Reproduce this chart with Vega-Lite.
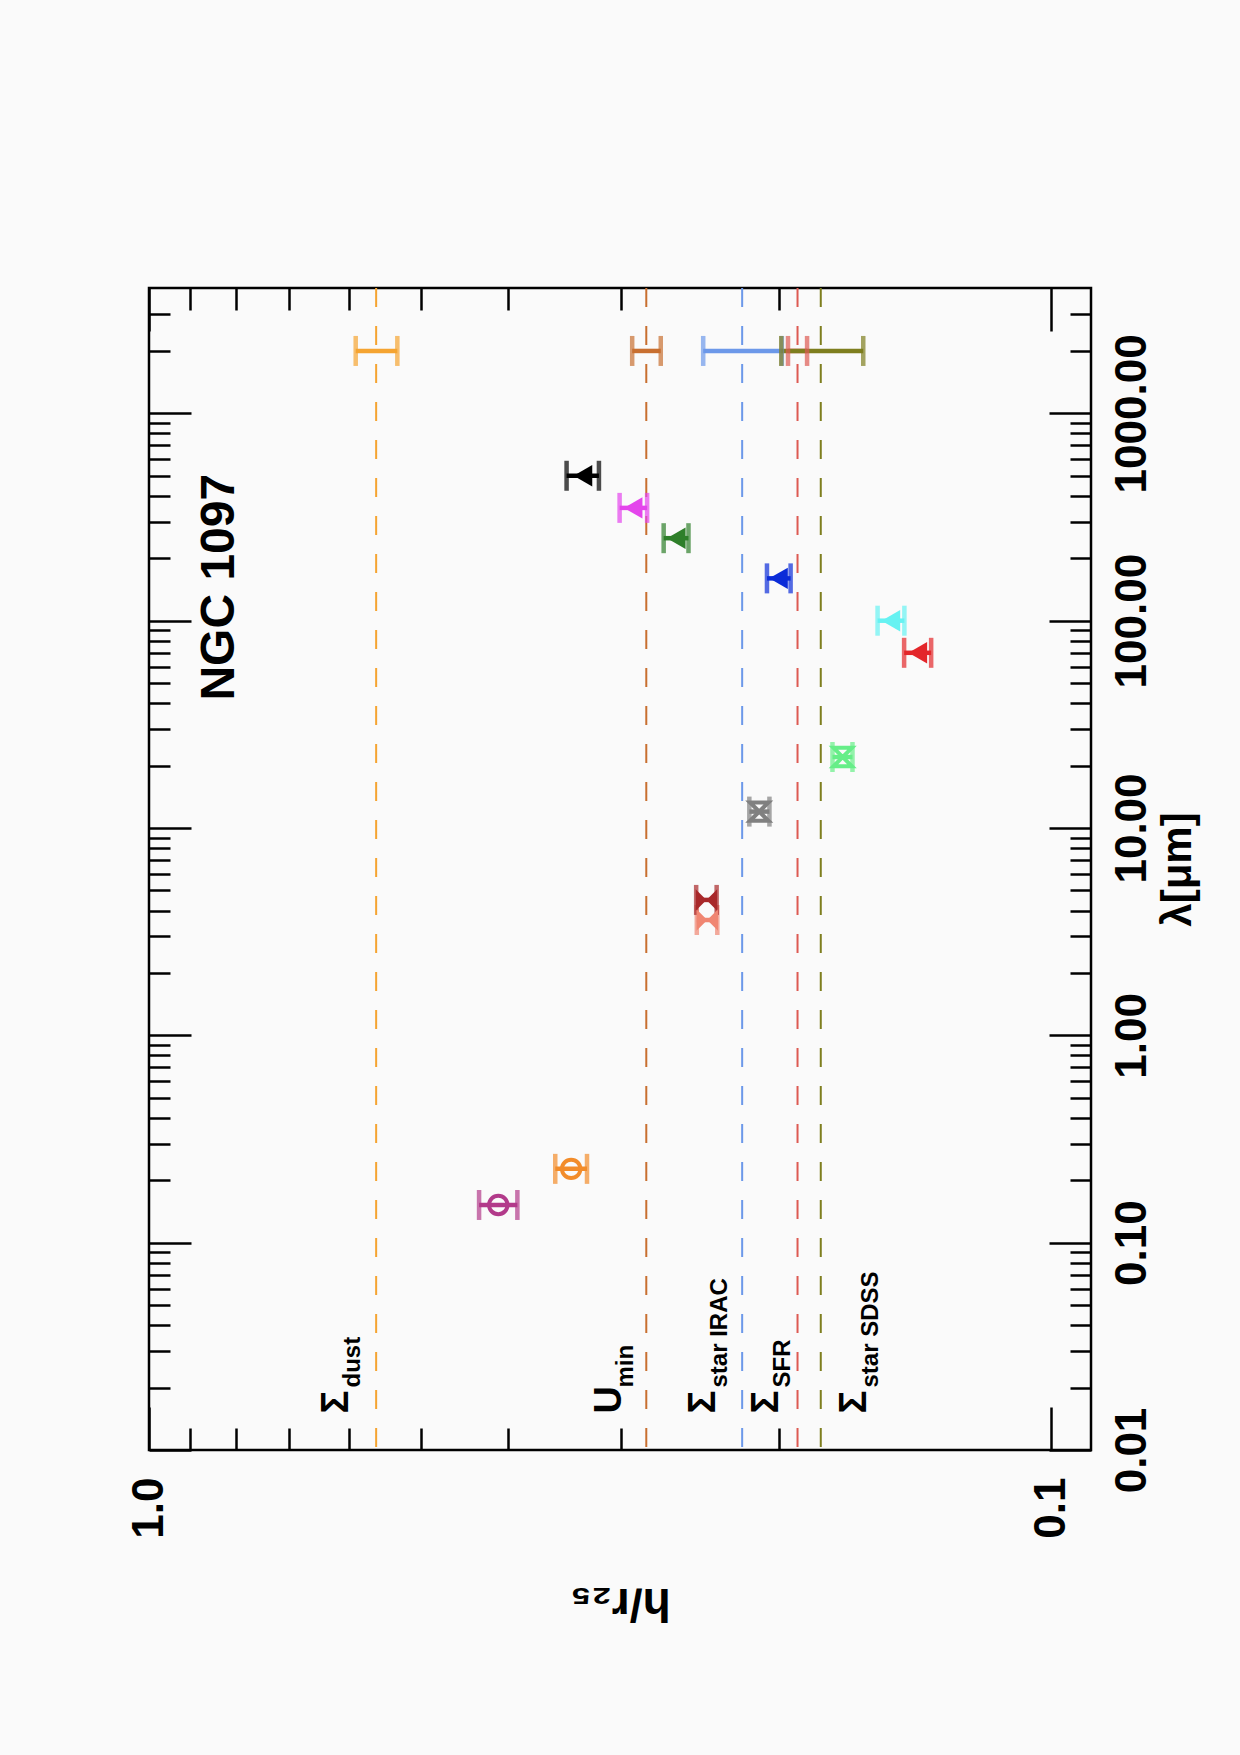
{
  "$schema": "https://vega.github.io/schema/vega-lite/v6.json",
  "width": 942,
  "height": 1162,
  "autosize": {"type": "none"},
  "padding": {"left": 149, "top": 288, "right": 149, "bottom": 305},
  "background": "#FAFAFA",
  "config": {
    "view": {"stroke": "#000000", "strokeWidth": 2.5},
    "axis": {
      "domain": false,
      "grid": false,
      "tickColor": "#000000",
      "tickWidth": 2.5,
      "labelFont": "Liberation Sans",
      "labelFontWeight": "bold",
      "labelFontSize": 44,
      "labelColor": "#000000",
      "titleFont": "Liberation Sans",
      "titleFontWeight": "bold",
      "titleColor": "#000000",
      "labelFlush": false,
      "labelOverlap": false
    },
    "text": {"font": "Liberation Sans", "fontWeight": "bold", "color": "#000000"}
  },
  "datasets": {
    "bands": [
      {"name": "FUV", "kind": "UV", "lam": 0.152, "h": 0.41, "lo": 0.3905, "hi": 0.4306},
      {"name": "NUV", "kind": "UV", "lam": 0.227, "h": 0.3404, "lo": 0.3269, "hi": 0.3545},
      {"name": "IRAC 3.6", "kind": "IRAC", "lam": 3.6, "h": 0.2405, "lo": 0.2344, "hi": 0.247},
      {"name": "IRAC 4.5", "kind": "IRAC", "lam": 4.5, "h": 0.241, "lo": 0.2348, "hi": 0.2474},
      {"name": "WISE 12", "kind": "WISE", "lam": 12, "h": 0.2106, "lo": 0.2052, "hi": 0.216},
      {"name": "WISE 22", "kind": "WISE", "lam": 22, "h": 0.1702, "lo": 0.166, "hi": 0.1747},
      {"name": "PACS 70", "kind": "FIR", "lam": 70, "h": 0.1405, "lo": 0.1358, "hi": 0.1455},
      {"name": "PACS 100", "kind": "FIR", "lam": 100, "h": 0.1505, "lo": 0.1454, "hi": 0.1557},
      {"name": "PACS 160", "kind": "FIR", "lam": 160, "h": 0.2005, "lo": 0.1944, "hi": 0.2065},
      {"name": "SPIRE 250", "kind": "FIR", "lam": 250, "h": 0.2603, "lo": 0.2523, "hi": 0.2688},
      {"name": "SPIRE 350", "kind": "FIR", "lam": 350, "h": 0.2906, "lo": 0.2804, "hi": 0.3008},
      {"name": "SPIRE 500", "kind": "FIR", "lam": 500, "h": 0.3303, "lo": 0.3171, "hi": 0.3444}
    ],
    "refs": [
      {"name": "Σdust", "lam": 2000, "h": 0.56, "lo": 0.5305, "hi": 0.59},
      {"name": "Umin", "lam": 2000, "h": 0.281, "lo": 0.2708, "hi": 0.2913},
      {"name": "ΣstarIRAC", "lam": 2000, "h": 0.22, "lo": 0.1988, "hi": 0.243},
      {"name": "ΣSFR", "lam": 2000, "h": 0.191, "lo": 0.1864, "hi": 0.1957},
      {"name": "ΣstarSDSS", "lam": 2000, "h": 0.18, "lo": 0.1615, "hi": 0.1991}
    ],
    "labels": [
      {"main": "Σ", "sub": "dust", "h": 0.6016, "lam": 0.015},
      {"main": "U", "sub": "min", "h": 0.2997, "lam": 0.015},
      {"main": "Σ", "sub": "star IRAC", "h": 0.2358, "lam": 0.015},
      {"main": "Σ", "sub": "SFR", "h": 0.2008, "lam": 0.015},
      {"main": "Σ", "sub": "star SDSS", "h": 0.1603, "lam": 0.015}
    ],
    "galaxy": [
      {"text": "NGC 1097", "h": 0.834, "lam": 145}
    ]
  },
  "layer": [
    {
      "data": {"name": "refs"},
      "mark": {"type": "rule", "strokeDash": [19, 19], "strokeWidth": 2},
      "encoding": {
        "x": {"field": "h", "type": "quantitative", "scale": {"type": "log", "domain": [0.0903, 1], "reverse": true, "nice": false}, "axis": null},
        "color": {"field": "name", "type": "nominal", "legend": null,
          "scale": {"domain": ["Σdust", "Umin", "ΣstarIRAC", "ΣSFR", "ΣstarSDSS", "FUV", "NUV", "IRAC 3.6", "IRAC 4.5", "WISE 12", "WISE 22", "PACS 70", "PACS 100", "PACS 160", "SPIRE 250", "SPIRE 350", "SPIRE 500"],
                    "range": ["#F5A431", "#C86F30", "#6C98E9", "#DD5A52", "#7E7E1E", "#B23A8A", "#F28C2A", "#F08672", "#A8282A", "#808080", "#66EE88", "#E3262A", "#66F2F2", "#0B2CD8", "#2E7F2A", "#E445EC", "#000000"]}}
      }
    },
    {
      "data": {"name": "refs"},
      "mark": {"type": "rule", "strokeWidth": 4.5},
      "encoding": {
        "x": {"field": "lo", "type": "quantitative", "scale": {"type": "log", "domain": [0.0903, 1], "reverse": true, "nice": false},
          "axis": {"orient": "top", "labels": false, "title": null,
            "values": [0.1, 0.2, 0.3, 0.4, 0.5, 0.6, 0.7, 0.8, 0.9, 1],
            "tickSize": {"condition": {"test": "datum.value === 0.1 || datum.value === 1", "value": -43}, "value": -22}}},
        "x2": {"field": "hi"},
        "y": {"field": "lam", "type": "quantitative", "scale": {"type": "log", "domain": [0.01, 4024], "nice": false},
          "axis": {"orient": "left", "labels": false, "title": null,
            "values": [0.01, 0.02, 0.03, 0.04, 0.05, 0.06, 0.07, 0.08, 0.09, 0.1, 0.2, 0.3, 0.4, 0.5, 0.6, 0.7, 0.8, 0.9, 1, 2, 3, 4, 5, 6, 7, 8, 9, 10, 20, 30, 40, 50, 60, 70, 80, 90, 100, 200, 300, 400, 500, 600, 700, 800, 900, 1000, 2000, 3000],
            "tickSize": {"condition": {"test": "datum.value === 0.01 || datum.value === 0.1 || datum.value === 1 || datum.value === 10 || datum.value === 100 || datum.value === 1000", "value": -42}, "value": -21}}},
        "color": {"field": "name", "type": "nominal", "legend": null}
      }
    },
    {
      "data": {"name": "refs"},
      "transform": [{"fold": ["lo", "hi"], "as": ["end", "val"]}],
      "mark": {"type": "tick", "orient": "vertical", "size": 30, "thickness": 4.5},
      "encoding": {
        "x": {"field": "val", "type": "quantitative", "scale": {"type": "log", "domain": [0.0903, 1], "reverse": true, "nice": false}, "axis": null},
        "y": {"field": "lam", "type": "quantitative", "scale": {"type": "log", "domain": [0.01, 4024], "nice": false}, "axis": null},
        "color": {"field": "name", "type": "nominal", "legend": null}
      }
    },
    {
      "data": {"name": "bands"},
      "mark": {"type": "rule", "strokeWidth": 4.5},
      "encoding": {
        "x": {"field": "lo", "type": "quantitative", "scale": {"type": "log", "domain": [0.0903, 1], "reverse": true, "nice": false},
          "axis": {"orient": "bottom",
            "values": [0.1, 0.2, 0.3, 0.4, 0.5, 0.6, 0.7, 0.8, 0.9, 1],
            "tickSize": {"condition": {"test": "datum.value === 0.1 || datum.value === 1", "value": -43}, "value": -22},
            "format": ".1f",
            "labelExpr": "datum.value === 0.1 || datum.value === 1 ? datum.label : ''",
            "labelAngle": 270, "labelAlign": "right", "labelBaseline": "middle", "labelPadding": 70,
            "title": "h/r₂₅", "titleAngle": 180, "titleFontSize": 46, "titleX": 471, "titleY": 138,
            "titleAlign": "center", "titleBaseline": "alphabetic"}},
        "x2": {"field": "hi"},
        "y": {"field": "lam", "type": "quantitative", "scale": {"type": "log", "domain": [0.01, 4024], "nice": false},
          "axis": {"orient": "right",
            "values": [0.01, 0.02, 0.03, 0.04, 0.05, 0.06, 0.07, 0.08, 0.09, 0.1, 0.2, 0.3, 0.4, 0.5, 0.6, 0.7, 0.8, 0.9, 1, 2, 3, 4, 5, 6, 7, 8, 9, 10, 20, 30, 40, 50, 60, 70, 80, 90, 100, 200, 300, 400, 500, 600, 700, 800, 900, 1000, 2000, 3000],
            "tickSize": {"condition": {"test": "datum.value === 0.01 || datum.value === 0.1 || datum.value === 1 || datum.value === 10 || datum.value === 100 || datum.value === 1000", "value": -42}, "value": -21},
            "format": ".2f",
            "labelExpr": "datum.value === 0.01 || datum.value === 0.1 || datum.value === 1 || datum.value === 10 || datum.value === 100 || datum.value === 1000 ? datum.label : ''",
            "labelAngle": 270, "labelAlign": "center", "labelBaseline": "top", "labelPadding": 61,
            "title": "λ[μm]", "titleAngle": 270, "titleFontSize": 42, "titleX": 66, "titleY": 581,
            "titleAlign": "center", "titleBaseline": "top"}},
        "color": {"field": "name", "type": "nominal", "legend": null}
      }
    },
    {
      "data": {"name": "bands"},
      "transform": [{"fold": ["lo", "hi"], "as": ["end", "val"]}],
      "mark": {"type": "tick", "orient": "vertical", "size": 30, "thickness": 4.5},
      "encoding": {
        "x": {"field": "val", "type": "quantitative", "scale": {"type": "log", "domain": [0.0903, 1], "reverse": true, "nice": false}, "axis": null},
        "y": {"field": "lam", "type": "quantitative", "scale": {"type": "log", "domain": [0.01, 4024], "nice": false}, "axis": null},
        "color": {"field": "name", "type": "nominal", "legend": null}
      }
    },
    {
      "data": {"name": "bands"},
      "transform": [{"filter": "datum.kind === 'IRAC' || datum.kind === 'FIR'"}],
      "mark": {"type": "point", "filled": true, "opacity": 1, "size": 460},
      "encoding": {
        "x": {"field": "h", "type": "quantitative", "scale": {"type": "log", "domain": [0.0903, 1], "reverse": true, "nice": false}, "axis": null},
        "y": {"field": "lam", "type": "quantitative", "scale": {"type": "log", "domain": [0.01, 4024], "nice": false}, "axis": null},
        "color": {"field": "name", "type": "nominal", "legend": null},
        "shape": {"field": "kind", "type": "nominal", "legend": null,
          "scale": {"domain": ["UV", "IRAC", "WISE", "FIR"], "range": ["circle", "M-1,-1L1,1L1,-1L-1,1Z", "M-1,-1L1,-1L-1,1L1,1Z", "triangle-left"]}}
      }
    },
    {
      "data": {"name": "bands"},
      "transform": [{"filter": "datum.kind === 'UV' || datum.kind === 'WISE'"}],
      "mark": {"type": "point", "filled": false, "opacity": 1, "strokeWidth": 4, "size": 340},
      "encoding": {
        "x": {"field": "h", "type": "quantitative", "scale": {"type": "log", "domain": [0.0903, 1], "reverse": true, "nice": false}, "axis": null},
        "y": {"field": "lam", "type": "quantitative", "scale": {"type": "log", "domain": [0.01, 4024], "nice": false}, "axis": null},
        "color": {"field": "name", "type": "nominal", "legend": null},
        "shape": {"field": "kind", "type": "nominal", "legend": null}
      }
    },
    {
      "data": {"name": "galaxy"},
      "mark": {"type": "text", "angle": 270, "align": "center", "baseline": "middle", "fontSize": 48},
      "encoding": {
        "x": {"field": "h", "type": "quantitative", "scale": {"type": "log", "domain": [0.0903, 1], "reverse": true, "nice": false}, "axis": null},
        "y": {"field": "lam", "type": "quantitative", "scale": {"type": "log", "domain": [0.01, 4024], "nice": false}, "axis": null},
        "text": {"field": "text"}
      }
    },
    {
      "data": {"name": "labels"},
      "mark": {"type": "text", "angle": 270, "align": "left", "baseline": "alphabetic", "fontSize": 38},
      "encoding": {
        "x": {"field": "h", "type": "quantitative", "scale": {"type": "log", "domain": [0.0903, 1], "reverse": true, "nice": false}, "axis": null},
        "y": {"field": "lam", "type": "quantitative", "scale": {"type": "log", "domain": [0.01, 4024], "nice": false}, "axis": null},
        "text": {"field": "main"}
      }
    },
    {
      "data": {"name": "labels"},
      "mark": {"type": "text", "angle": 270, "align": "left", "baseline": "alphabetic", "fontSize": 24, "dx": 26, "dy": 12},
      "encoding": {
        "x": {"field": "h", "type": "quantitative", "scale": {"type": "log", "domain": [0.0903, 1], "reverse": true, "nice": false}, "axis": null},
        "y": {"field": "lam", "type": "quantitative", "scale": {"type": "log", "domain": [0.01, 4024], "nice": false}, "axis": null},
        "text": {"field": "sub"}
      }
    }
  ],
  "resolve": {"axis": {"x": "independent", "y": "independent"}}
}
